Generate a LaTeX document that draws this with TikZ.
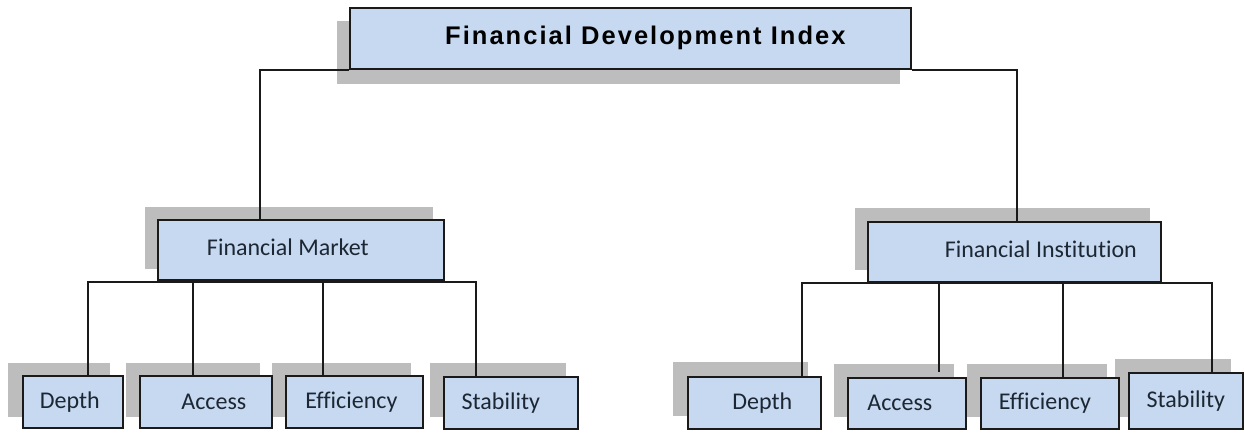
\documentclass[tikz,border=0pt]{standalone}
\usepackage{fontspec}
\setmainfont[Ligatures=NoCommon]{Carlito}
\newfontfamily\titlefont[LetterSpace=8]{Liberation Sans}
\usetikzlibrary{calc}
\definecolor{boxfill}{HTML}{C6D9F1}
\definecolor{shadowc}{HTML}{BDBDBD}
\definecolor{edgec}{HTML}{1A1A1A}
\definecolor{txtc}{HTML}{1C2733}
\pgfdeclarelayer{shadow}
\pgfdeclarelayer{lines}
\pgfsetlayers{shadow,lines,main}
\tikzset{
  box/.style={draw=edgec, line width=1.7pt, fill=boxfill, anchor=north west, inner sep=0pt,
    text=txtc, font=\fontsize{24}{28}\selectfont},
  conn/.style={draw=edgec, line width=1.8pt},
}
\newcommand{\boxshadow}[3]{%
  \begin{pgfonlayer}{shadow}
  \fill[shadowc] ($(#1.north west)+(#2,#3)$) rectangle ($(#1.south east)+(#2,#3)$);
  \end{pgfonlayer}}
\begin{document}
\begin{tikzpicture}[x=1pt,y=-1pt]
\useasboundingbox (0,0) rectangle (1244,432);
% top
\node[box, minimum width=561pt, minimum height=61pt, text=black,
  font=\titlefont\bfseries\fontsize{25.5}{28}\selectfont] (top) at (349,7) {\hspace*{30pt}Financial Development Index};
\boxshadow{top}{-12}{14}
% middle
\node[box, minimum width=286pt, minimum height=60pt] (fm) at (157,219) {\hspace*{-26pt}\raisebox{5pt}{Financial Market}};
\boxshadow{fm}{-12}{-12}
\node[box, minimum width=293pt, minimum height=60pt] (fi) at (867,221) {\hspace*{53pt}\raisebox{5pt}{Financial Institution}};
\boxshadow{fi}{-12}{-13}
% bottom left
\node[box, minimum width=100pt, minimum height=52pt] (d1) at (22,375) {\hspace*{-6pt}Depth};
\boxshadow{d1}{-14}{-12}
\node[box, minimum width=132pt, minimum height=52pt] (a1) at (139,375) {\hspace*{16pt}Access};
\boxshadow{a1}{-13}{-12}
\node[box, minimum width=137pt, minimum height=52pt] (e1) at (285,375) {\hspace*{-6pt}Efficiency};
\boxshadow{e1}{-13}{-12}
\node[box, minimum width=134pt, minimum height=52pt] (s1) at (443,376) {\hspace*{-20pt}Stability};
\boxshadow{s1}{-13}{-13}
% bottom right
\node[box, minimum width=133pt, minimum height=52pt] (d2) at (687,376) {\hspace*{16pt}Depth};
\boxshadow{d2}{-14}{-14}
\node[box, minimum width=118pt, minimum height=51pt] (a2) at (847,377) {\hspace*{-14pt}Access};
\boxshadow{a2}{-13}{-13}
\node[box, minimum width=138pt, minimum height=51pt] (e2) at (980,377) {\hspace*{-10pt}Efficiency};
\boxshadow{e2}{-13}{-13}
\node[box, minimum width=114pt, minimum height=56pt] (s2) at (1128,372) {\raisebox{3pt}{Stability}};
\boxshadow{s2}{-13}{-13}
% connectors
\begin{pgfonlayer}{lines}
\draw[conn] ($(fm.north west)+(103,0)$) |- (top.south west);
\draw[conn] (top.south east) -| ($(fi.north)+(3,0)$);
\coordinate (lb) at ($(fm.south)+(0,1)$);
\draw[conn] ($(d1.north)+(15,0)$) |- (lb) -| ($(s1.north)+(-35,0)$);
\draw[conn] ($(a1.north)+(-13,0)$) coordinate (ta1) -- (ta1 |- lb);
\draw[conn] ($(e1.north)+(-31.5,0)$) coordinate (te1) -- (te1 |- lb);
\coordinate (rb) at (fi.south);
\draw[conn] ($(d2.north)+(47.5,0)$) |- (rb) -| ($(s2.north)+(26,0)$);
\draw[conn] ($(a2.north)+(32,-5)$) coordinate (ta2) -- (ta2 |- rb);
\draw[conn] ($(e2.north)+(13,0)$) coordinate (te2) -- (te2 |- rb);
\end{pgfonlayer}
\end{tikzpicture}
\end{document}
